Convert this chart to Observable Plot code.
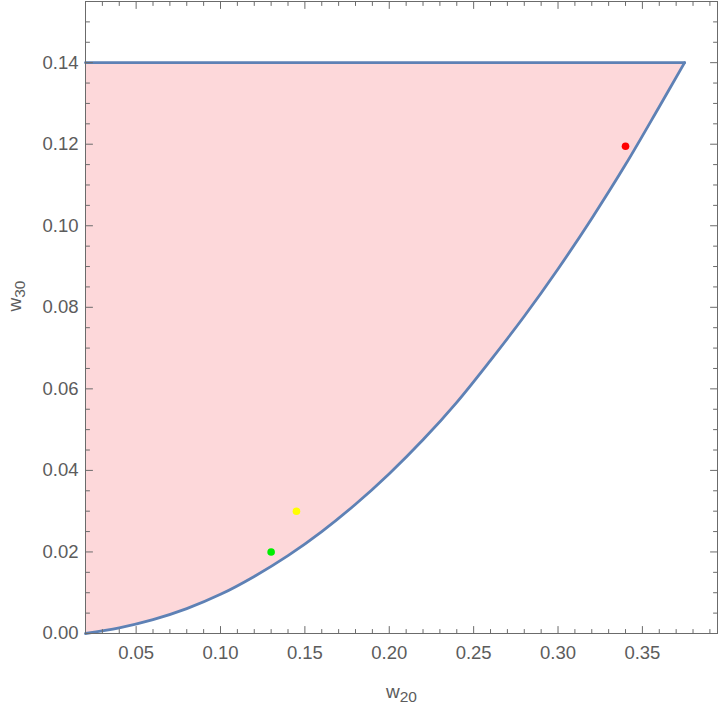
<!DOCTYPE html>
<html>
<head>
<meta charset="utf-8">
<script src="https://cdn.jsdelivr.net/npm/d3@7"></script>
<script src="https://cdn.jsdelivr.net/npm/@observablehq/plot@0.6"></script>
<style>
  html, body { margin: 0; padding: 0; background: #fff; }
</style>
</head>
<body>
<div id="chart"></div>
<script>
// Lower boundary of the region
const curveW20 = [0.020, 0.040, 0.060, 0.080, 0.100, 0.120, 0.140, 0.160, 0.180, 0.200, 0.220, 0.240, 0.260, 0.280, 0.300, 0.320, 0.340, 0.360, 0.375];
const curveW30 = [0.0000, 0.0014, 0.0034, 0.0061, 0.0096, 0.0140, 0.0191, 0.0250, 0.0317, 0.0392, 0.0475, 0.0567, 0.0670, 0.0778, 0.0894, 0.1018, 0.1150, 0.1292, 0.1400];
// Upper boundary
const topW30 = 0.14;
const topW20 = [0.02, 0.375];
// Marked points
const pointW20 = [0.13, 0.145, 0.34];
const pointW30 = [0.02, 0.03, 0.1195];
const pointColor = ["#00ee00", "#ffff00", "#ff0000"];
// Axes
const xDomain = [0.02, 0.3945];
const yDomain = [0, 0.155];
const xMajor = [0.05, 0.10, 0.15, 0.20, 0.25, 0.30, 0.35];
const xMinor = [0.03, 0.04, 0.06, 0.07, 0.08, 0.09, 0.11, 0.12, 0.13, 0.14, 0.16, 0.17, 0.18, 0.19, 0.21, 0.22, 0.23, 0.24, 0.26, 0.27, 0.28, 0.29, 0.31, 0.32, 0.33, 0.34, 0.36, 0.37, 0.38, 0.39];
const yMajor = [0.00, 0.02, 0.04, 0.06, 0.08, 0.10, 0.12, 0.14];
const yMinor = [0.005, 0.01, 0.015, 0.025, 0.03, 0.035, 0.045, 0.05, 0.055, 0.065, 0.07, 0.075, 0.085, 0.09, 0.095, 0.105, 0.11, 0.115, 0.125, 0.13, 0.135, 0.145, 0.15];
const xLabel = "w20";
const yLabel = "w30";

const curve = curveW20.map((x, i) => ({x, y: curveW30[i]}));
const topLine = topW20.map(x => ({x, y: topW30}));
const points = pointW20.map((x, i) => ({x, y: pointW30[i], c: pointColor[i]}));

const tickShape = {draw(ctx, l) { ctx.moveTo(0, 0); ctx.lineTo(0, -l); }};
const frameColor = "#6b6b6b";
const textColor = "#5c5c5c";
const tickMarks = (data, key, frameAnchor, rotate, length) =>
  Plot.vector(data, {[key]: d => d, frameAnchor, rotate, length, anchor: "start", shape: tickShape, stroke: frameColor, strokeWidth: 1});

const plot = Plot.plot({
  width: 720,
  height: 708,
  marginLeft: 85,
  marginRight: 3,
  marginTop: 1,
  marginBottom: 75,
  style: {fontFamily: "'Liberation Sans', Arial, sans-serif", fontSize: "18.5px", color: frameColor, background: "#fff"},
  x: {domain: xDomain},
  y: {domain: yDomain},
  marks: [
    Plot.areaY(curve, {x: "x", y1: "y", y2: topW30, fill: "#fdd8da", curve: "catmull-rom"}),
    Plot.line(curve, {x: "x", y: "y", stroke: "#5e81b5", strokeWidth: 2.8, curve: "catmull-rom"}),
    Plot.line(topLine, {x: "x", y: "y", stroke: "#5e81b5", strokeWidth: 2.8}),
    Plot.dot(points, {x: "x", y: "y", fill: "c", r: 3.8}),
    Plot.frame({stroke: frameColor}),
    tickMarks(xMajor, "x", "bottom", 0, 7),
    tickMarks(xMinor, "x", "bottom", 0, 4),
    tickMarks(xMajor, "x", "top", 180, 7),
    tickMarks(xMinor, "x", "top", 180, 4),
    tickMarks(yMajor, "y", "left", 90, 7),
    tickMarks(yMinor, "y", "left", 90, 4),
    tickMarks(yMajor, "y", "right", -90, 7),
    tickMarks(yMinor, "y", "right", -90, 4),
    Plot.axisX({ticks: xMajor, tickSize: 0, tickPadding: 12, tickFormat: d3.format(".2f"), label: null, fill: textColor}),
    Plot.axisY({ticks: yMajor, tickSize: 0, tickPadding: 7, tickFormat: d3.format(".2f"), label: null, fill: textColor}),
    Plot.text([xLabel], {text: d => d, frameAnchor: "bottom", dy: 58, fontSize: 19, fill: textColor, lineAnchor: "middle"}),
    Plot.text([yLabel], {text: d => d, frameAnchor: "left", dx: -71, dy: -6, rotate: -90, fontSize: 19, fill: textColor, lineAnchor: "middle"})
  ]
});

// Render the label digits as subscripts
d3.select(plot).selectAll("text").each(function() {
  const t = this.textContent;
  if (t === xLabel || t === yLabel) {
    const el = d3.select(this);
    el.text(null);
    el.append("tspan").text(t.slice(0, 1));
    el.append("tspan").attr("font-size", 15.5).attr("dy", 4).text(t.slice(1));
  }
});

document.getElementById("chart").appendChild(plot);
</script>
</body>
</html>
